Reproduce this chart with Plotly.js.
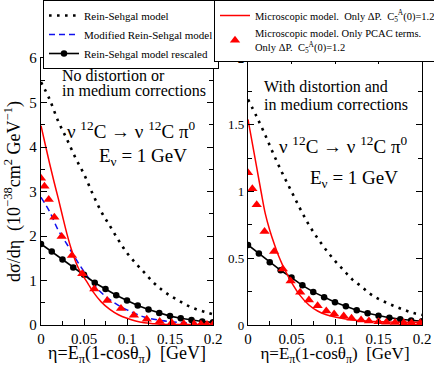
<!DOCTYPE html>
<html>
<head>
<meta charset="utf-8">
<script src="https://cdn.plot.ly/plotly-3.0.1.min.js"></script>
<style>
  html, body { margin: 0; padding: 0; background: #fff; }
  #chart { width: 434px; height: 366px; }
</style>
</head>
<body>
<div id="chart"></div>
<script>
// eta grid (GeV) for the Rein-Sehgal curves
const etaRS = [0, 0.01, 0.02, 0.03, 0.04, 0.05, 0.06, 0.07, 0.08, 0.09, 0.1,
               0.11, 0.12, 0.13, 0.14, 0.15, 0.16, 0.17, 0.18, 0.19, 0.2];
const leftRS  = [5.46, 5.07, 4.58, 4.18, 3.76, 3.39, 2.95, 2.55, 2.23, 1.91, 1.62,
                 1.39, 1.18, 0.97, 0.80, 0.66, 0.55, 0.44, 0.36, 0.30, 0.24];
const rightRS = [1.69, 1.56, 1.42, 1.27, 1.13, 1.00, 0.87, 0.75, 0.65, 0.56, 0.48,
                 0.41, 0.34, 0.29, 0.235, 0.195, 0.165, 0.137, 0.112, 0.09, 0.075];

// modified Rein-Sehgal (left panel only)
const etaMod  = [0, 0.01, 0.02, 0.03, 0.04, 0.05, 0.06, 0.07, 0.08, 0.09, 0.1, 0.12, 0.14, 0.16, 0.18, 0.2];
const leftMod = [2.87, 2.55, 2.13, 1.82, 1.50, 1.20, 0.94, 0.73, 0.57, 0.44, 0.34, 0.18, 0.10, 0.06, 0.04, 0.03];

// Rein-Sehgal rescaled (line + circles)
const etaResc   = [0, 0.0125, 0.025, 0.0375, 0.05, 0.0625, 0.075, 0.0875, 0.1,
                   0.1125, 0.125, 0.1375, 0.15, 0.1625, 0.175, 0.1875, 0.2];
const leftResc  = [1.82, 1.65, 1.47, 1.29, 1.13, 0.95, 0.81, 0.67, 0.55,
                   0.44, 0.35, 0.27, 0.20, 0.15, 0.11, 0.08, 0.06];
const rightResc = [0.60, 0.535, 0.47, 0.41, 0.355, 0.297, 0.248, 0.207, 0.17,
                   0.14, 0.11, 0.088, 0.07, 0.055, 0.043, 0.034, 0.028];

// microscopic model, only Delta P (red line)
const etaMicroL = [0, 0.005, 0.01, 0.015, 0.02, 0.025, 0.03, 0.035, 0.04, 0.045, 0.05, 0.055,
                   0.06, 0.07, 0.08, 0.09, 0.1, 0.11, 0.12, 0.13, 0.14, 0.16, 0.18, 0.2];
const leftMicro = [4.48, 4.05, 3.63, 3.23, 2.85, 2.45, 2.06, 1.72, 1.44, 1.22, 1.07, 0.92,
                   0.76, 0.52, 0.35, 0.23, 0.15, 0.09, 0.05, 0.03, 0.015, 0.01, 0.01, 0.01];
const etaMicroR  = [0, 0.005, 0.01, 0.015, 0.02, 0.025, 0.03, 0.035, 0.04, 0.045, 0.05,
                    0.06, 0.07, 0.08, 0.09, 0.1, 0.12, 0.14, 0.16, 0.18, 0.2];
const rightMicro = [1.54, 1.36, 1.18, 1.00, 0.83, 0.71, 0.61, 0.52, 0.445, 0.38, 0.32,
                    0.22, 0.15, 0.105, 0.077, 0.06, 0.037, 0.028, 0.023, 0.02, 0.02];

// microscopic model, only PCAC terms (red triangles)
const etaPcacL  = [0, 0.004, 0.009, 0.0155, 0.024, 0.036, 0.048, 0.062, 0.077, 0.093,
                   0.108, 0.123, 0.138, 0.152, 0.166, 0.178, 0.186, 0.193, 0.2];
const leftPcac  = [3.30, 3.12, 2.82, 2.42, 1.99, 1.56, 1.15, 0.81, 0.55, 0.37,
                   0.22, 0.13, 0.08, 0.05, 0.03, 0.02, 0.015, 0.01, 0.01];
const etaPcacR  = [0, 0.005, 0.01, 0.019, 0.03, 0.04, 0.049, 0.06, 0.07, 0.08, 0.09,
                   0.099, 0.11, 0.119, 0.13, 0.139, 0.15, 0.159, 0.169, 0.179, 0.188, 0.198];
const rightPcac = [1.14, 1.02, 0.90, 0.70, 0.55, 0.42, 0.33, 0.245, 0.187, 0.145, 0.105,
                   0.082, 0.067, 0.05, 0.037, 0.03, 0.025, 0.02, 0.018, 0.016, 0.015, 0.015];

const names = {
    rs: 'Rein-Sehgal model',
    mod: 'Modified Rein-Sehgal model',
    resc: 'Rein-Sehgal model rescaled',
    micro: 'Microscopic model.  Only ΔP.  C<sub>5</sub><sup>A</sup>(0)=1.2',
    pcac: 'Microscopic model. Only PCAC terms.<br>Only ΔP.  C<sub>5</sub><sup>A</sup>(0)=1.2'
};

const FONT = '"Liberation Serif", "Times New Roman", serif';
const W = 434, H = 366;
const px = x => x / W;
const py = y => 1 - y / H;

// Build traces for one panel
function panelTraces(xa, ya, rs, resc, micro, pcac, withLegend) {
    const traces = [];
    traces.push({
        x: etaRS, y: rs, xaxis: xa, yaxis: ya, mode: 'lines', name: names.rs,
        line: { color: 'black', width: 2.6, dash: '2.6px,5.4px', shape: 'spline' },
        showlegend: withLegend, legend: 'legend'
    });
    if (withLegend) {
        traces.push({
            x: etaMod, y: leftMod, xaxis: xa, yaxis: ya, mode: 'lines', name: names.mod,
            line: { color: '#1010ee', width: 1.5, dash: '6px,4px', shape: 'spline' },
            legend: 'legend'
        });
    }
    traces.push({
        x: etaResc, y: resc, xaxis: xa, yaxis: ya, mode: 'lines+markers', name: names.resc,
        line: { color: 'black', width: 1.6 },
        marker: { color: 'black', size: 6.5, symbol: 'circle' },
        showlegend: withLegend, legend: 'legend'
    });
    traces.push({
        x: micro.x, y: micro.y, xaxis: xa, yaxis: ya, mode: 'lines', name: names.micro,
        line: { color: '#ff0000', width: 1.5, shape: 'spline' },
        showlegend: withLegend, legend: 'legend2'
    });
    traces.push({
        x: pcac.x, y: pcac.y, xaxis: xa, yaxis: ya, mode: 'markers', name: names.pcac,
        marker: { color: '#ff0000', size: 9, symbol: 'triangle-up' },
        showlegend: withLegend, legend: 'legend2'
    });
    return traces;
}

const traces = [
    ...panelTraces('x', 'y', leftRS, leftResc, { x: etaMicroL, y: leftMicro }, { x: etaPcacL, y: leftPcac }, true),
    ...panelTraces('x2', 'y2', rightRS, rightResc, { x: etaMicroR, y: rightMicro }, { x: etaPcacR, y: rightPcac }, false)
];

const yDomain = [41 / H, 308 / H];

function xAxis(domain, anchor, titleSize) {
    return {
        domain: domain, anchor: anchor, range: [0, 0.2], dtick: 0.05,
        showgrid: false, zeroline: false,
        showline: true, mirror: 'ticks', linecolor: 'black', linewidth: 1.2,
        ticks: 'inside', ticklen: 6, tickcolor: 'black', tickwidth: 1,
        minor: { dtick: 0.025, ticks: 'inside', ticklen: 4, tickcolor: 'black', tickwidth: 1 },
        tickfont: { family: FONT, size: 15, color: 'black' },
        title: {
            text: 'η=E<sub>π</sub>(1-cosθ<sub>π</sub>)  [GeV]',
            font: { family: FONT, size: titleSize, color: 'black' },
            standoff: 4
        }
    };
}

function yAxis(range, dtick, minorDtick, anchor, fontSize) {
    return {
        domain: yDomain, anchor: anchor, range: range, dtick: dtick,
        showgrid: false, zeroline: false,
        showline: true, mirror: 'ticks', linecolor: 'black', linewidth: 1.2,
        ticks: 'inside', ticklen: 6, tickcolor: 'black', tickwidth: 1,
        minor: { dtick: minorDtick, ticks: 'inside', ticklen: 4, tickcolor: 'black', tickwidth: 1 },
        tickfont: { family: FONT, size: fontSize, color: 'black' }
    };
}

const yLeft = yAxis([0, 6], 1, 0.5, 'x', 15);
yLeft.title = {
    text: 'dσ/dη  (10<sup>−38</sup>cm<sup>2</sup> GeV<sup>−1</sup>)',
    font: { family: FONT, size: 18, color: 'black' },
    standoff: 4
};

function note(text, x, y, size) {
    return {
        text: text, x: px(x), y: py(y), xref: 'paper', yref: 'paper',
        xanchor: 'left', yanchor: 'middle', showarrow: false,
        font: { family: FONT, size: size, color: 'black' }
    };
}

const reaction = 'ν <sup>12</sup>C → ν <sup>12</sup>C π<sup>0</sup>';
const energy = 'E<sub>ν</sub> = 1 GeV';

const layout = {
    width: W, height: H,
    margin: { l: 0, r: 0, t: 0, b: 0, autoexpand: false },
    paper_bgcolor: 'white', plot_bgcolor: 'white',
    font: { family: FONT, color: 'black' },
    xaxis: xAxis([41 / W, 213 / W], 'y', 18),
    yaxis: yLeft,
    xaxis2: xAxis([248 / W, 422 / W], 'y2', 17),
    yaxis2: yAxis([0, 2], 0.5, 0.25, 'x2', 13),
    legend: {
        x: px(43), y: py(0), xanchor: 'left', yanchor: 'top',
        bgcolor: 'white', bordercolor: 'black', borderwidth: 1,
        font: { family: FONT, size: 11, color: 'black' },
        tracegroupgap: 0, itemwidth: 30
    },
    legend2: {
        x: px(214), y: py(0), xanchor: 'left', yanchor: 'top',
        bgcolor: 'white', bordercolor: 'black', borderwidth: 1,
        font: { family: FONT, size: 10.5, color: 'black' },
        tracegroupgap: 0, itemwidth: 30
    },
    annotations: [
        note('No distortion or', 60, 75, 16),
        note('in medium corrections', 60, 91, 16),
        note(reaction, 65, 130, 19),
        note(energy, 97, 157, 19),
        note('With distortion and', 262, 87, 16),
        note('in medium corrections', 262, 104, 16),
        note(reaction, 277, 145, 19),
        note(energy, 308, 179, 19)
    ],
    showlegend: true
};

Plotly.newPlot('chart', traces, layout, { displayModeBar: false, staticPlot: true });
</script>
</body>
</html>
